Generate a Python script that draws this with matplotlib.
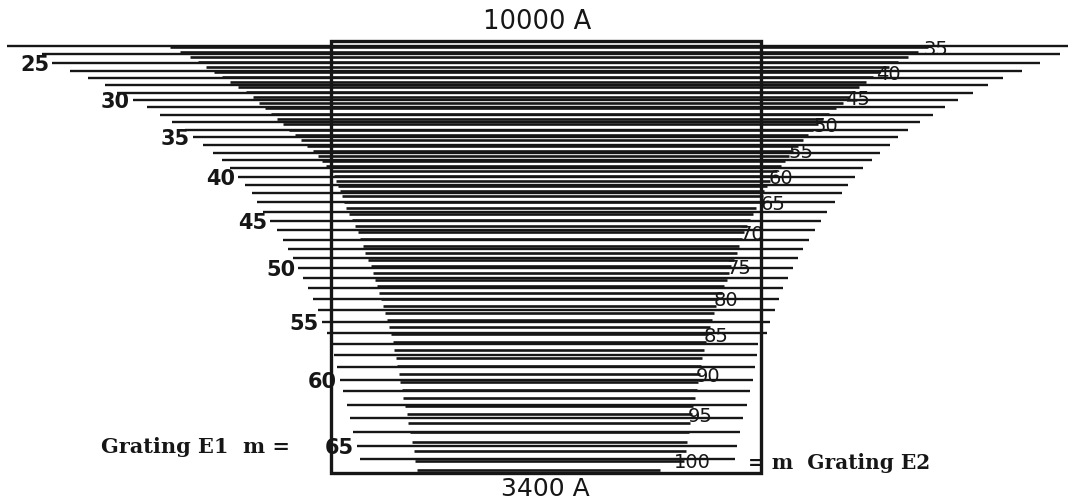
import matplotlib
matplotlib.use("Agg")
import matplotlib.pyplot as plt
from matplotlib.patches import Rectangle

# Grating E1 orders (labelled on the left): row y, left end, right end (chart px)
e1_orders = list(range(23, 67))
e1_y = [46, 54, 63, 71, 78, 85, 93, 100, 107, 115, 122, 130, 137, 145, 153,
        160, 168, 177, 185, 193, 202, 212, 221, 230, 240, 249, 258, 268, 278,
        288, 299, 310, 322, 333, 344, 355, 367, 380, 391, 405, 418, 432, 446, 459]
e1_left = [7, 42, 52, 70, 88, 105, 117, 133, 147, 160, 172, 185, 193, 203, 213,
           222, 230, 238, 245, 252, 257, 263, 270, 277, 283, 288, 293, 298, 303,
           308, 313, 318, 322, 327, 331, 334, 337, 340, 343, 347, 350, 353, 357, 360]
e1_right = [1068, 1060, 1040, 1022, 1003, 988, 973, 958, 945, 933, 920, 908, 898,
            890, 880, 872, 863, 855, 848, 842, 835, 827, 821, 815, 809, 803, 798,
            793, 788, 783, 779, 775, 770, 767, 758, 757, 755, 753, 750, 747, 743,
            740, 737, 735]

# Grating E2 orders (labelled on the right)
e2_orders = list(range(35, 102))
e2_y = [47, 52, 57, 62, 67, 72, 77, 82, 87, 92, 97, 103, 108, 114, 119, 124,
        130, 135, 140, 146, 151, 156, 161, 166, 171, 176, 181, 186, 191, 196,
        202, 208, 214, 220, 226, 232, 239, 246, 253, 260, 266, 273, 280, 286,
        293, 299, 306, 313, 320, 327, 334, 342, 350, 358, 366, 374, 382, 390,
        398, 406, 414, 423, 432, 442, 451, 461, 470]
e2_left = [170, 180, 190, 198, 206, 214, 222, 230, 238, 246, 253, 259, 265, 271,
           277, 283, 289, 295, 301, 307, 313, 318, 322, 326, 330, 334, 336, 338,
           340, 342, 344, 346, 349, 352, 355, 358, 360, 363, 365, 368, 371, 373,
           375, 377, 379, 381, 383, 385, 387, 389, 391, 393, 394, 396, 397, 399,
           400, 402, 403, 405, 407, 408, 410, 412, 414, 415, 417]
e2_right = [928, 918, 908, 898, 889, 880, 873, 866, 859, 855, 850, 843, 836, 829,
            823, 818, 813, 808, 803, 798, 793, 789, 785, 781, 777, 773, 770, 767,
            764, 763, 765, 756, 753, 750, 747, 744, 742, 739, 737, 734, 731, 729,
            727, 724, 722, 718, 716, 714, 712, 710, 708, 706, 704, 702, 701, 700,
            698, 697, 695, 693, 692, 690, 689, 687, 686, 684, 660]

e1_labels = [25, 30, 35, 40, 45, 50, 55, 60, 65]
e2_labels = [35, 40, 45, 50, 55, 60, 65, 70, 75, 80, 85, 90, 95, 100]

fig = plt.figure(figsize=(10.73, 5.01), dpi=100, facecolor="white")
ax = fig.add_axes([0, 0, 1, 1])
ax.set_xlim(0, 1073)
ax.set_ylim(501, 0)
ax.axis("off")

ink = "#161616"

# order lines
ax.hlines(e1_y, e1_left, e1_right, colors=ink, lw=1.7, capstyle="butt")
ax.hlines(e2_y, e2_left, e2_right, colors=ink, lw=1.9, capstyle="butt")

# detector box
ax.add_patch(Rectangle((331, 41), 430, 432, fill=False, ec=ink, lw=2.4))

# order numbers
for m in e1_labels:
    i = e1_orders.index(m)
    ax.text(e1_left[i] - 3, e1_y[i] + 2, str(m), ha="right", va="center",
            fontsize=15, fontweight="bold", color=ink, family="DejaVu Sans")
for m in e2_labels:
    i = e2_orders.index(m)
    ax.text(e2_right[i] + 8, e2_y[i] + 2, str(m), ha="center", va="center",
            fontsize=14, color=ink, family="DejaVu Sans")

# wavelength limits
ax.text(537, 22, "10000 A", ha="center", va="center", fontsize=18.5,
        fontweight="medium", color=ink)
ax.text(545, 489, "3400 A", ha="center", va="center", fontsize=18,
        fontweight="medium", color=ink)

# grating captions
ax.text(290, 447, "Grating E1  m =", ha="right", va="center", fontsize=15,
        fontweight="bold", family="DejaVu Serif", color=ink)
ax.text(748, 463, "= m  Grating E2", ha="left", va="center", fontsize=14.5,
        fontweight="bold", family="DejaVu Serif", color=ink)

fig.savefig("out.png", dpi=100, facecolor="white")
